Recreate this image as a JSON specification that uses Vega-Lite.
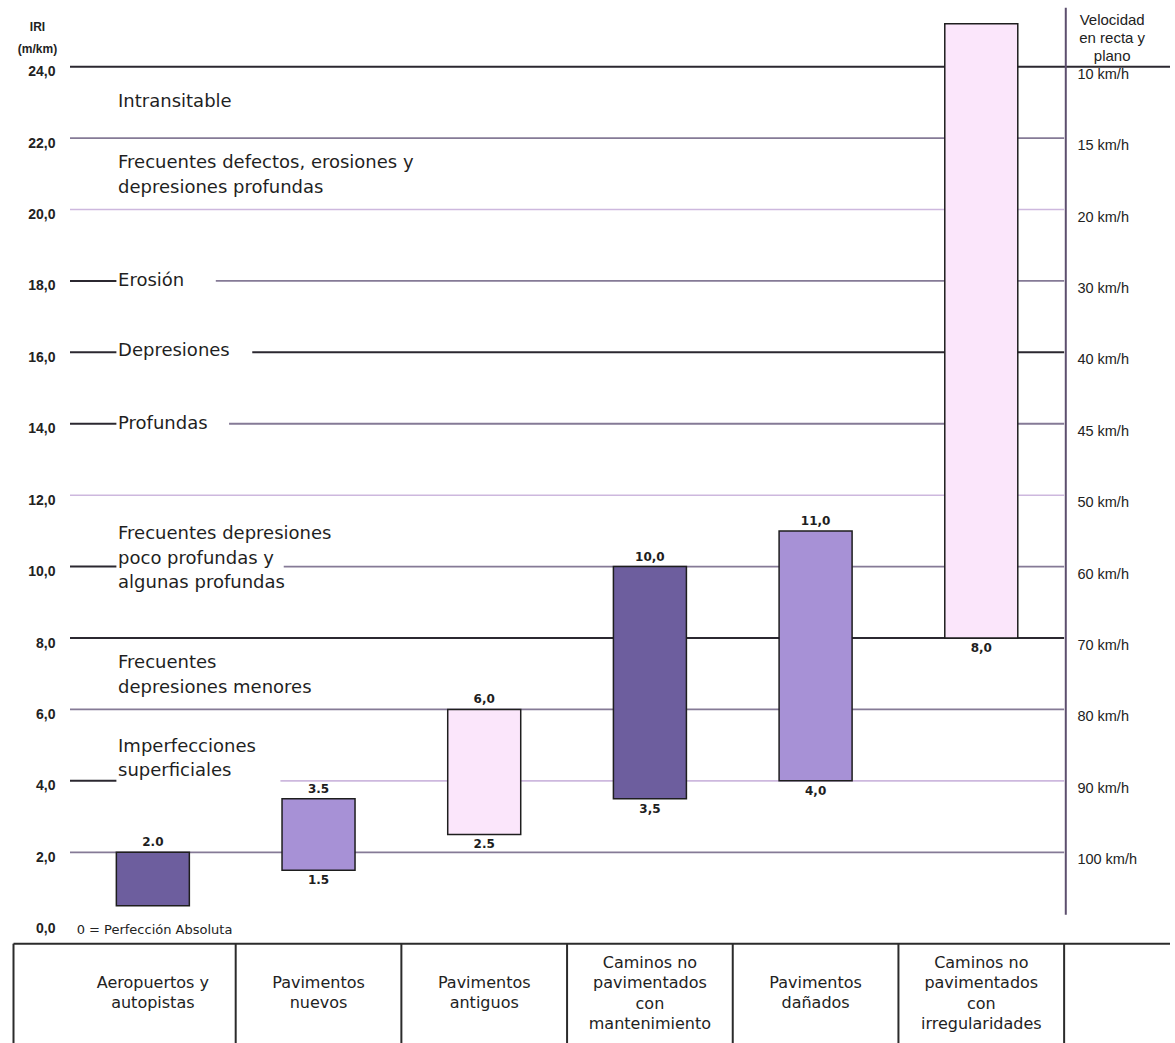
{
  "$schema": "https://vega.github.io/schema/vega-lite/v6.json",
  "autosize": {"type": "none"},
  "padding": {"left": 65, "top": 0, "right": 0, "bottom": 0},
  "width": 1110,
  "height": 1043,
  "background": "white",
  "config": {"view": {"stroke": null}},
  "datasets": {
    "lineas": [
      {"iri": 24, "desde": 0.5, "hasta": 7.139, "tipo": "fuerte"},
      {"iri": 22, "desde": 0.5, "hasta": 6.5, "tipo": "medio"},
      {"iri": 20, "desde": 0.5, "hasta": 6.5, "tipo": "suave"},
      {"iri": 18, "desde": 0.5, "hasta": 0.78, "tipo": "fuerte"},
      {"iri": 18, "desde": 1.38, "hasta": 6.5, "tipo": "medio"},
      {"iri": 16, "desde": 0.5, "hasta": 0.78, "tipo": "fuerte"},
      {"iri": 16, "desde": 1.6, "hasta": 6.5, "tipo": "fuerte"},
      {"iri": 14, "desde": 0.5, "hasta": 0.78, "tipo": "fuerte"},
      {"iri": 14, "desde": 1.46, "hasta": 6.5, "tipo": "medio"},
      {"iri": 12, "desde": 0.5, "hasta": 6.5, "tipo": "suave"},
      {"iri": 10, "desde": 0.5, "hasta": 0.78, "tipo": "fuerte"},
      {"iri": 10, "desde": 1.79, "hasta": 6.5, "tipo": "medio"},
      {"iri": 8, "desde": 0.5, "hasta": 6.5, "tipo": "fuerte"},
      {"iri": 6, "desde": 0.5, "hasta": 6.5, "tipo": "medio"},
      {"iri": 4, "desde": 0.5, "hasta": 0.78, "tipo": "fuerte"},
      {"iri": 4, "desde": 1.77, "hasta": 6.5, "tipo": "suave"},
      {"iri": 2, "desde": 0.5, "hasta": 6.5, "tipo": "medio"}
    ],
    "vias": [
      {"orden": 1, "categoria": "Aeropuertos y\nautopistas", "desde": 0.5, "hasta": 2.0, "tono": "oscuro", "sup": "2.0", "inf": null},
      {"orden": 2, "categoria": "Pavimentos\nnuevos", "desde": 1.5, "hasta": 3.5, "tono": "medio", "sup": "3.5", "inf": "1.5"},
      {"orden": 3, "categoria": "Pavimentos\nantiguos", "desde": 2.5, "hasta": 6.0, "tono": "claro", "sup": "6,0", "inf": "2.5"},
      {"orden": 4, "categoria": "Caminos no\npavimentados\ncon\nmantenimiento", "desde": 3.5, "hasta": 10.0, "tono": "oscuro", "sup": "10,0", "inf": "3,5"},
      {"orden": 5, "categoria": "Pavimentos\ndañados", "desde": 4.0, "hasta": 11.0, "tono": "medio", "sup": "11,0", "inf": "4,0"},
      {"orden": 6, "categoria": "Caminos no\npavimentados\ncon\nirregularidades", "desde": 8.0, "hasta": 25.2, "tono": "claro", "sup": null, "inf": "8,0"}
    ],
    "zonas": [
      {"texto": "Intransitable", "iri": 23.0},
      {"texto": "Frecuentes defectos, erosiones y\ndepresiones profundas", "iri": 21.3},
      {"texto": "Erosión", "iri": 18.0},
      {"texto": "Depresiones", "iri": 16.05},
      {"texto": "Profundas", "iri": 14.0},
      {"texto": "Frecuentes depresiones\npoco profundas y\nalgunas profundas", "iri": 10.9},
      {"texto": "Frecuentes\ndepresiones menores", "iri": 7.3},
      {"texto": "Imperfecciones\nsuperficiales", "iri": 4.95}
    ],
    "velocidades": [
      {"iri": 24, "velocidad": "10 km/h"},
      {"iri": 22, "velocidad": "15 km/h"},
      {"iri": 20, "velocidad": "20 km/h"},
      {"iri": 18, "velocidad": "30 km/h"},
      {"iri": 16, "velocidad": "40 km/h"},
      {"iri": 14, "velocidad": "45 km/h"},
      {"iri": 12, "velocidad": "50 km/h"},
      {"iri": 10, "velocidad": "60 km/h"},
      {"iri": 8, "velocidad": "70 km/h"},
      {"iri": 6, "velocidad": "80 km/h"},
      {"iri": 4, "velocidad": "90 km/h"},
      {"iri": 2, "velocidad": "100 km/h"}
    ],
    "tabla_h": [
      {"nivel": -0.56, "desde": 0.159, "hasta": 7.139}
    ],
    "tabla_v": [
      {"limite": 0.159}, {"limite": 1.5}, {"limite": 2.5}, {"limite": 3.5},
      {"limite": 4.5}, {"limite": 5.5}, {"limite": 6.5}
    ],
    "eje_vel": [
      {"limite": 6.51, "desde": 0.25, "hasta": 25.65}
    ],
    "notas": [
      {"nota": "0 = Perfección Absoluta", "iri": 0}
    ],
    "cabecera": [
      {"texto": "Velocidad\nen recta y\nplano", "iri": 25.3}
    ]
  },
  "layer": [
    {
      "data": {"name": "lineas"},
      "mark": {"type": "rule"},
      "encoding": {
        "y": {
          "field": "iri", "type": "quantitative",
          "scale": {"domain": [-3.341, 25.867], "nice": false, "zero": false},
          "axis": {
            "values": [0, 2, 4, 6, 8, 10, 12, 14, 16, 18, 20, 22, 24],
            "domain": false, "ticks": false, "grid": false,
            "labelExpr": "replace(format(datum.value, '.1f'), '.', ',')",
            "labelFont": "Liberation Sans", "labelFontWeight": "bold",
            "labelFontSize": 14, "labelColor": "#222222",
            "labelPadding": 10, "labelOffset": 5,
            "title": ["IRI", "(m/km)"],
            "titleAngle": 0, "titleAlign": "center", "titleBaseline": "top",
            "titleX": -28, "titleY": 21,
            "titleFont": "Liberation Sans", "titleFontWeight": "bold",
            "titleFontSize": 12, "titleLineHeight": 22, "titleColor": "#222222"
          }
        },
        "x": {
          "field": "desde", "type": "quantitative",
          "scale": {"domain": [0.5, 7.139], "nice": false, "zero": false},
          "axis": null
        },
        "x2": {"field": "hasta"},
        "color": {
          "field": "tipo", "type": "nominal",
          "scale": {"domain": ["fuerte", "medio", "suave"], "range": ["#2b2830", "#857a96", "#cdb8de"]},
          "legend": null
        },
        "strokeWidth": {
          "field": "tipo", "type": "nominal",
          "scale": {"domain": ["fuerte", "medio", "suave"], "range": [2, 1.6, 1.8]},
          "legend": null
        }
      }
    },
    {
      "data": {"name": "eje_vel"},
      "mark": {"type": "rule", "color": "#5d4f6e", "strokeWidth": 2},
      "encoding": {
        "x": {"field": "limite", "type": "quantitative"},
        "y": {"field": "desde", "type": "quantitative"},
        "y2": {"field": "hasta"}
      }
    },
    {
      "data": {"name": "tabla_h"},
      "mark": {"type": "rule", "color": "#2b2b2b", "strokeWidth": 2},
      "encoding": {
        "x": {"field": "desde", "type": "quantitative"},
        "x2": {"field": "hasta"},
        "y": {"field": "nivel", "type": "quantitative"}
      }
    },
    {
      "data": {"name": "tabla_v"},
      "mark": {"type": "rule", "color": "#2b2b2b", "strokeWidth": 2},
      "encoding": {
        "x": {"field": "limite", "type": "quantitative"},
        "y": {"datum": -0.56},
        "y2": {"datum": -3.341}
      }
    },
    {
      "data": {"name": "vias"},
      "mark": {"type": "bar", "width": 73, "stroke": "#1e1e1e", "strokeWidth": 1.5},
      "encoding": {
        "x": {"field": "orden", "type": "quantitative"},
        "y": {"field": "desde", "type": "quantitative"},
        "y2": {"field": "hasta"},
        "fill": {
          "field": "tono", "type": "nominal",
          "scale": {"domain": ["oscuro", "medio", "claro"], "range": ["#6d5e9e", "#a791d6", "#fbe6fb"]},
          "legend": null
        }
      }
    },
    {
      "data": {"name": "vias"},
      "transform": [{"filter": "datum.sup != null"}],
      "mark": {"type": "text", "baseline": "bottom", "dy": -3, "font": "DejaVu Sans", "fontWeight": "bold", "fontSize": 12, "color": "#1e1e1e"},
      "encoding": {
        "x": {"field": "orden", "type": "quantitative"},
        "y": {"field": "hasta", "type": "quantitative"},
        "text": {"field": "sup", "type": "nominal"}
      }
    },
    {
      "data": {"name": "vias"},
      "transform": [{"filter": "datum.inf != null"}],
      "mark": {"type": "text", "baseline": "top", "dy": 5, "font": "DejaVu Sans", "fontWeight": "bold", "fontSize": 12, "color": "#1e1e1e"},
      "encoding": {
        "x": {"field": "orden", "type": "quantitative"},
        "y": {"field": "desde", "type": "quantitative"},
        "text": {"field": "inf", "type": "nominal"}
      }
    },
    {
      "data": {"name": "vias"},
      "transform": [{"filter": "!test(/\\n.*\\n/, datum.categoria)"}],
      "mark": {"type": "text", "align": "center", "baseline": "middle", "lineBreak": "\n", "lineHeight": 20.5, "font": "DejaVu Sans", "fontSize": 16, "color": "#222222"},
      "encoding": {
        "x": {"field": "orden", "type": "quantitative"},
        "y": {"datum": -1.66},
        "text": {"field": "categoria", "type": "nominal"}
      }
    },
    {
      "data": {"name": "vias"},
      "transform": [{"filter": "test(/\\n.*\\n/, datum.categoria)"}],
      "mark": {"type": "text", "align": "center", "baseline": "middle", "lineBreak": "\n", "lineHeight": 20.5, "font": "DejaVu Sans", "fontSize": 16, "color": "#222222"},
      "encoding": {
        "x": {"field": "orden", "type": "quantitative"},
        "y": {"datum": -1.09},
        "text": {"field": "categoria", "type": "nominal"}
      }
    },
    {
      "data": {"name": "zonas"},
      "mark": {"type": "text", "align": "left", "baseline": "middle", "lineBreak": "\n", "lineHeight": 24.5, "font": "DejaVu Sans", "fontSize": 18, "color": "#1f1f1f"},
      "encoding": {
        "x": {"datum": 0.79},
        "y": {"field": "iri", "type": "quantitative"},
        "text": {"field": "texto", "type": "nominal"}
      }
    },
    {
      "data": {"name": "notas"},
      "mark": {"type": "text", "align": "left", "baseline": "middle", "dy": 6, "font": "DejaVu Sans", "fontSize": 13, "color": "#222222"},
      "encoding": {
        "x": {"datum": 0.54},
        "y": {"field": "iri", "type": "quantitative"},
        "text": {"field": "nota", "type": "nominal"}
      }
    },
    {
      "data": {"name": "velocidades"},
      "mark": {"type": "text", "align": "left", "baseline": "top", "dy": 1, "font": "Liberation Sans", "fontSize": 14.5, "color": "#222222"},
      "encoding": {
        "x": {"datum": 6.58},
        "y": {"field": "iri", "type": "quantitative"},
        "text": {"field": "velocidad", "type": "nominal"}
      }
    },
    {
      "data": {"name": "cabecera"},
      "mark": {"type": "text", "align": "center", "baseline": "middle", "lineBreak": "\n", "lineHeight": 18, "font": "Liberation Sans", "fontSize": 15, "color": "#222222"},
      "encoding": {
        "x": {"datum": 6.79},
        "y": {"field": "iri", "type": "quantitative"},
        "text": {"field": "texto", "type": "nominal"}
      }
    }
  ]
}
